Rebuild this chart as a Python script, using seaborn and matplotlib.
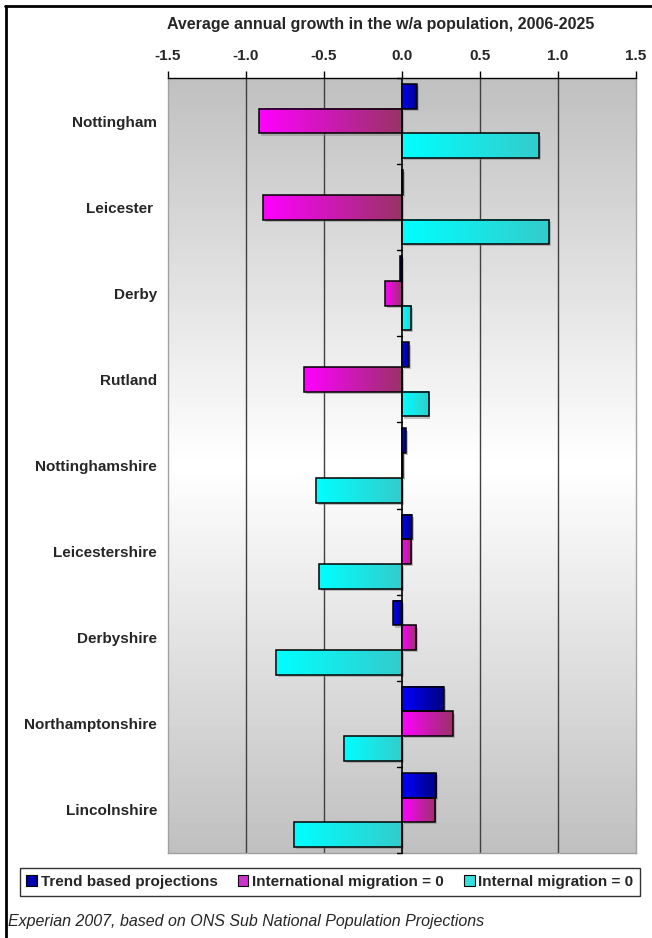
import matplotlib
matplotlib.use("Agg")
import matplotlib.pyplot as plt
import seaborn as sns
import numpy as np
import pandas as pd
from matplotlib.colors import LinearSegmentedColormap
from matplotlib.patches import Rectangle
from matplotlib.lines import Line2D

areas = ["Nottingham", "Leicester ", "Derby", "Rutland", "Nottinghamshire",
         "Leicestershire", "Derbyshire", "Northamptonshire", "Lincolnshire"]
series = ["Trend based projections", "International migration = 0", "Internal migration = 0"]
trend = [0.095, 0.005, -0.01, 0.043, 0.025, 0.062, -0.056, 0.267, 0.22]
intl_zero = [-0.915, -0.89, -0.11, -0.63, 0.005, 0.06, 0.092, 0.325, 0.213]
internal_zero = [0.88, 0.945, 0.06, 0.17, -0.55, -0.53, -0.81, -0.374, -0.694]
xticks = [-1.5, -1.0, -0.5, 0.0, 0.5, 1.0, 1.5]

grad_colors = [("#0000ff", "#000080"), ("#ff00ff", "#993366"), ("#00ffff", "#33cccc")]
legend_colors = ["#0000b0", "#cc33cc", "#33e0e0"]

df = pd.DataFrame({"area": areas * 3,
                   "series": np.repeat(series, len(areas)),
                   "value": trend + intl_zero + internal_zero})

sns.set_theme(style="white")
plt.rcParams["font.family"] = ["Liberation Sans", "DejaVu Sans"]

fig = plt.figure(figsize=(6.52, 9.38), dpi=100)
ax = fig.add_axes([168 / 652, 1 - 853 / 938, 468 / 652, 775 / 938])

sns.barplot(data=df, y="area", x="value", hue="series", orient="h",
            order=areas, hue_order=series, width=0.86, legend=False,
            ax=ax, saturation=1)

ax.set_xlim(-1.5, 1.5)
ax.set_ylim(len(areas) - 0.5, -0.5)

# background: grey at top and bottom, white in the middle
bg = np.concatenate([np.linspace(0.75, 1.0, 128), np.linspace(1.0, 0.75, 128)])
ax.imshow(bg[:, None], cmap="gray", vmin=0, vmax=1, aspect="auto",
          extent=[0, 1, 0, 1], transform=ax.transAxes, zorder=0)

# gradient-filled bars with a soft shadow
bars = [p for p in ax.patches if isinstance(p, Rectangle)]
for i, p in enumerate(bars):
    s = i // len(areas)
    bb = p.get_bbox()
    x0, x1 = sorted([bb.x0, bb.x1])
    y0, y1 = sorted([bb.y0, bb.y1])
    p.set_visible(False)
    if x1 - x0 < 1e-6:
        continue
    ax.add_patch(Rectangle((x0 + 0.012, y0 + 0.025), x1 - x0, y1 - y0,
                           facecolor="#808080", alpha=0.45, edgecolor="none", zorder=2))
    cmap = LinearSegmentedColormap.from_list("g%d" % s, grad_colors[s])
    ax.imshow(np.linspace(0, 1, 64)[None, :], cmap=cmap, aspect="auto",
              extent=[x0, x1, y1, y0], zorder=3, interpolation="bilinear")
    ax.add_patch(Rectangle((x0, y0), x1 - x0, y1 - y0, facecolor="none",
                           edgecolor="black", linewidth=1.1, zorder=4))

ax.set_xlim(-1.5, 1.5)
ax.set_ylim(len(areas) - 0.5, -0.5)

for v in xticks:
    if v not in (-1.5, 0.0, 1.5):
        ax.axvline(v, color="#404040", linewidth=1, zorder=1)
ax.axvline(0, color="black", linewidth=1.2, zorder=5)
for k in range(len(areas) + 1):
    ax.plot([-0.035, 0], [k - 0.5, k - 0.5], color="black", linewidth=1, zorder=5,
            clip_on=False)

ax.xaxis.tick_top()
ax.set_xticks(xticks)
ax.set_xticklabels(["%.1f" % v for v in xticks], fontsize=11, fontweight="bold")
ax.tick_params(axis="x", direction="out", length=5, width=1, color="black", pad=6,
               top=True, bottom=False)
ax.tick_params(axis="y", length=0, pad=8)
ax.set_yticks(range(len(areas)))
ax.set_yticklabels(areas, fontsize=11, fontweight="bold")
ax.set_xlabel("")
ax.set_ylabel("")
for side in ["left", "right", "bottom"]:
    ax.spines[side].set_color("#a0a0a0")
    ax.spines[side].set_linewidth(1)
ax.spines["top"].set_color("black")
ax.spines["top"].set_linewidth(1)

fig.text(167 / 652, 1 - 24 / 938, "Average annual growth in the w/a population, 2006-2025",
         fontsize=11.5, fontweight="bold", va="center", ha="left")

handles = [Rectangle((0, 0), 1, 1, facecolor=c, edgecolor="black", linewidth=0.8)
           for c in legend_colors]
leg = fig.legend(handles, series, loc="center", bbox_to_anchor=(330 / 652, 1 - 882 / 938),
                 ncol=3, frameon=True, fancybox=False, handlelength=0.7, handleheight=0.7,
                 handletextpad=0.25, columnspacing=1.3, borderpad=0.45,
                 prop={"weight": "bold", "size": 11})
leg.get_frame().set_edgecolor("black")
leg.get_frame().set_linewidth(1)

fig.text(8 / 652, 1 - 921 / 938, "Experian 2007, based on ONS Sub National Population Projections",
         fontsize=11.5, style="italic", va="center", ha="left")

# frame lines at top and left of the figure
fig.add_artist(Line2D([5 / 652, 1], [1 - 6 / 938, 1 - 6 / 938], color="black", linewidth=2,
                      transform=fig.transFigure))
fig.add_artist(Line2D([6 / 652, 6 / 652], [0, 1 - 6 / 938], color="black", linewidth=2,
                      transform=fig.transFigure))

fig.savefig("out.png", dpi=100)
plt.close(fig)
